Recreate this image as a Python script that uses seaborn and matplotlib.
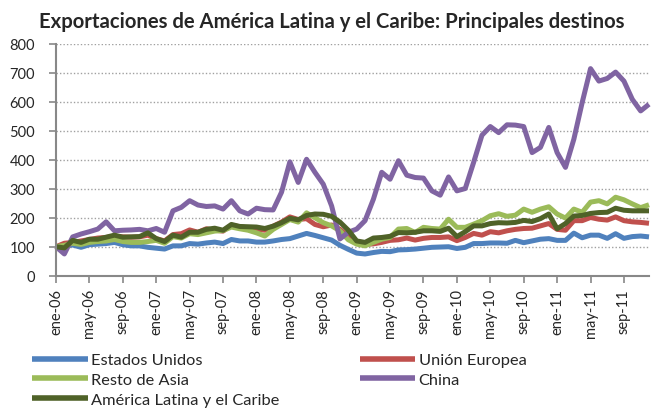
import matplotlib
matplotlib.use('Agg')
import matplotlib.pyplot as plt
import pandas as pd
import numpy as np
import seaborn as sns

# valores (indice mensual, ene-06 = 100 aprox.)
meses_abrev = ['ene', 'feb', 'mar', 'abr', 'may', 'jun', 'jul', 'ago', 'sep', 'oct', 'nov', 'dic']
anios = ['06', '07', '08', '09', '10', '11']
periodos = [m + '-' + a for a in anios for m in meses_abrev]

estados_unidos = [100, 103, 106, 98, 107, 109, 111, 115, 107, 103, 103, 98, 95, 92, 103, 103, 111, 109, 113,
                  116, 111, 125, 120, 120, 116, 116, 120, 125, 128, 137, 146, 139, 131, 123, 105, 91,
                  78, 75, 80, 84, 83, 89, 90, 92, 95, 98, 99, 100, 94, 98, 111, 111, 113, 113,
                  112, 122, 114, 120, 126, 128, 122, 122, 147, 131, 140, 140, 129, 145, 129, 135, 137, 134]

union_europea = [100, 112, 115, 120, 125, 130, 132, 136, 134, 133, 134, 140, 128, 120, 142, 145, 158, 150, 162,
                 157, 154, 174, 169, 165, 160, 157, 171, 185, 203, 194, 197, 177, 169, 175, 160, 135,
                 117, 108, 110, 115, 122, 124, 130, 123, 129, 132, 132, 134, 121, 132, 146, 140, 152, 148,
                 155, 160, 163, 164, 172, 180, 160, 157, 190, 190, 201, 195, 192, 203, 190, 186, 184, 181]

resto_asia = [100, 105, 112, 108, 115, 118, 120, 125, 118, 115, 115, 118, 122, 112, 135, 130, 145, 142,
              148, 154, 156, 168, 162, 157, 148, 137, 160, 177, 194, 185, 217, 200, 183, 172, 155, 124,
              109, 103, 115, 126, 132, 161, 163, 149, 167, 163, 161, 195, 167, 167, 178, 190, 207, 214,
              205, 209, 230, 219, 230, 238, 213, 199, 230, 219, 254, 259, 248, 271, 262, 248, 235, 245]

china = [100, 75, 134, 144, 152, 161, 186, 155, 157, 158, 160, 155, 163, 150, 224, 236, 259, 244, 239,
         241, 230, 259, 224, 213, 233, 228, 227, 288, 393, 322, 402, 357, 316, 241, 127, 150,
         161, 190, 264, 357, 333, 397, 347, 339, 337, 293, 278, 341, 293, 301, 391, 485, 515, 494,
         521, 520, 515, 425, 443, 512, 425, 374, 471, 598, 715, 672, 681, 703, 672, 609, 569, 592]

america_latina = [100, 96, 122, 115, 126, 126, 133, 140, 133, 134, 135, 148, 128, 118, 140, 133, 150, 150,
                  160, 164, 157, 177, 170, 169, 168, 163, 171, 183, 198, 193, 208, 213, 212, 205, 185, 157,
                  120, 115, 130, 132, 136, 149, 148, 150, 155, 155, 153, 164, 135, 152, 172, 172, 180, 183,
                  182, 184, 191, 187, 197, 213, 162, 180, 206, 208, 215, 218, 219, 233, 226, 224, 224, 224]

series = ['Estados Unidos', 'Unión Europea', 'Resto de Asia', 'China', 'América Latina y el Caribe']
colores = ['#4F81BD', '#C0504D', '#9BBB59', '#8064A2', '#4F6228']

#armamos el dataframe largo para seaborn
df = pd.DataFrame({'mes': np.arange(len(periodos)),
                   'Estados Unidos': estados_unidos,
                   'Unión Europea': union_europea,
                   'Resto de Asia': resto_asia,
                   'China': china,
                   'América Latina y el Caribe': america_latina})
df_largo = df.melt(id_vars='mes', var_name='destino', value_name='valor')

sns.set_style('white')
plt.rcParams['font.family'] = ['Lato', 'DejaVu Sans']

fig = plt.figure(figsize=(6.55, 4.10), dpi=100)
ax = fig.add_axes([56 / 655, 1 - 276.7 / 410, 593 / 655, (276.7 - 45) / 410])

sns.lineplot(data=df_largo, x='mes', y='valor', hue='destino', hue_order=series,
             palette=colores, linewidth=3.6, ax=ax, legend=True)
for l in ax.lines:
    l.set_clip_on(False)
    l.set_solid_joinstyle('round')
    l.set_solid_capstyle('butt')

ax.set_xlim(0, 71)
ax.set_ylim(0, 800)
ax.set_yticks(range(0, 801, 100))
ticks_x = list(range(0, len(periodos), 4))
ax.set_xticks(ticks_x)
ax.set_xticklabels([periodos[i] for i in ticks_x], rotation=90, fontsize=10.5)
ax.tick_params(axis='y', labelsize=10.5, length=5, width=1.2, color='#888888', pad=10, direction='out', left=True)
ax.tick_params(axis='x', length=5, width=1.2, color='#888888', pad=4, direction='out', bottom=True)
ax.set_xlabel('')
ax.set_ylabel('')

#grid punteado
for v in range(100, 801, 100):
    ax.axhline(v, color='#A0A0A0', linestyle=(0, (1, 1.5)), linewidth=1, zorder=0)

sns.despine(ax=ax, top=True, right=True)
ax.spines['left'].set_color('#888888')
ax.spines['bottom'].set_color('#888888')
ax.spines['left'].set_linewidth(1.5)
ax.spines['bottom'].set_linewidth(1.5)

fig.text(39 / 655, 1 - 22 / 410, 'Exportaciones de América Latina y el Caribe: Principales destinos',
         fontsize=14.6, fontweight='bold', va='center', ha='left')

#leyenda abajo, 2 columnas, orden por filas
h, lab = ax.get_legend_handles_labels()
ax.get_legend().remove()
orden = [0, 2, 4, 1, 3]
leg = fig.legend([h[i] for i in orden], [lab[i] for i in orden], ncol=2, frameon=False,
                 loc='upper left', bbox_to_anchor=(32 / 655, 1 - 354 / 410),
                 fontsize=11.8, handlelength=3.4, handletextpad=0.2, labelspacing=0.31,
                 columnspacing=4.9, borderpad=0, borderaxespad=0)
for lh in leg.get_lines():
    lh.set_linewidth(4)

fig.savefig('out.png', dpi=100)
